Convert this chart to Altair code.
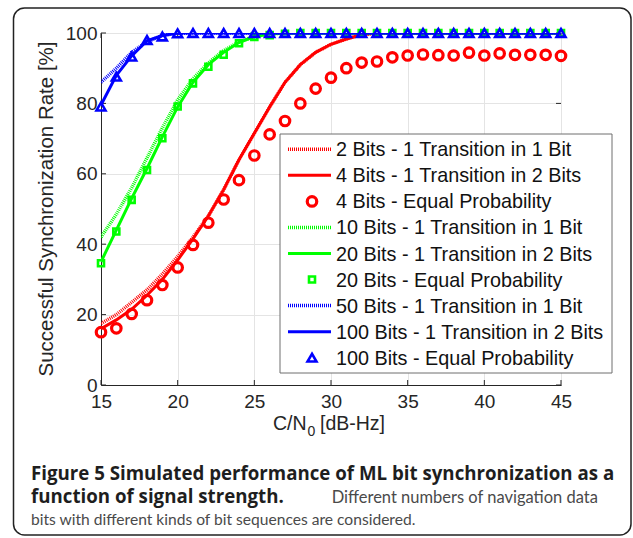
import altair as alt
import pandas as pd

# ---- data -------------------------------------------------------------
cn0 = list(range(15, 46))  # C/N0 in dB-Hz

red_2bits_1in1 = [17.5, 20, 23.5, 27, 31.5, 36.5, 42, 48, 55.5, 64, 71.5, 79, 86, 91,
                  94.5, 96.8, 98.3, 99.5] + [100] * 13
red_4bits_1in2 = [16, 18.5, 21.5, 25.5, 30, 35.5, 41.5, 48, 55.5, 64, 71.5, 79, 86, 91,
                  94.5, 96.8, 98.3, 99.5] + [100] * 13
red_4bits_equal = [15, 16.1, 20.2, 24.1, 28.4, 33.4, 39.8, 46.1, 52.7, 58.2, 65.2, 71.2,
                   75.0, 80.0, 84.2, 87.3, 90.0, 91.6, 91.9, 93.1, 93.6, 93.9, 93.7, 93.6,
                   94.4, 93.6, 94.2, 93.8, 93.8, 93.8, 93.5]
green_10bits_1in1 = [42, 48.5, 56, 64.5, 73, 81, 87, 91.5, 95, 97.5, 99, 99.7] + [100] * 19
green_20bits_1in2 = [35, 44, 53, 61.5, 70.5, 79, 86, 91, 94.5, 97.3, 99, 99.7] + [100] * 19
green_20bits_equal = [34.6, 43.6, 52.6, 61.1, 70.1, 79.1, 85.7, 90.4, 93.8, 97.1, 98.9,
                      99.4, 99.8] + [100] * 18
blue_50bits_1in1 = [86, 90, 94.5, 97.5, 99.3, 99.9] + [100] * 25
blue_100bits_1in2 = [79.5, 88, 93.5, 97.8, 99.3, 100] + [100] * 25
blue_100bits_equal = [79.1, 87.6, 93.3, 98, 99, 99.9] + [100] * 25

legend_labels = [
    "2 Bits - 1 Transition in 1 Bit",
    "4 Bits - 1 Transition in 2 Bits",
    "4 Bits - Equal Probability",
    "10 Bits - 1 Transition in 1 Bit",
    "20 Bits - 1 Transition in 2 Bits",
    "20 Bits - Equal Probability",
    "50 Bits - 1 Transition in 1 Bit",
    "100 Bits - 1 Transition in 2 Bits",
    "100 Bits - Equal Probability",
]
series_values = [
    red_2bits_1in1, red_4bits_1in2, red_4bits_equal,
    green_10bits_1in1, green_20bits_1in2, green_20bits_equal,
    blue_50bits_1in1, blue_100bits_1in2, blue_100bits_equal,
]

x_ticks = [15, 20, 25, 30, 35, 40, 45]
y_ticks = [0, 20, 40, 60, 80, 100]

caption_bold_1 = "Figure 5 Simulated performance of ML bit synchronization as a"
caption_bold_2 = "function of signal strength."
caption_reg_2 = "Different numbers of navigation data"
caption_reg_3 = "bits with different kinds of bit sequences are considered."

# ---- styling ------------------------------------------------------------
W, H = 460, 352
FONT = "Liberation Sans"
INK = "#262626"
RED, GREEN, BLUE = "#ff0000", "#00ff00", "#0000ff"
colors = [RED, RED, RED, GREEN, GREEN, GREEN, BLUE, BLUE, BLUE]
kinds = ["dotted", "solid", "marker"] * 3
shapes = {2: "circle", 5: "square", 8: "triangle-up"}
sizes = {2: 90, 5: 36, 8: 80}
stroke_w = {2: 3.2, 5: 2.6, 8: 2.6}

x_scale = alt.Scale(domain=[15, 45], nice=False, zero=False)
y_scale = alt.Scale(domain=[0, 100], nice=False)

axis_common = dict(
    grid=True, gridColor="#e4e4e4", gridWidth=1, ticks=False, domain=True,
    domainColor=INK, domainWidth=1, labelFont=FONT, labelFontSize=19,
    labelColor=INK, labelOverlap=False, labelFlush=False, title=None,
)
x_axis = alt.Axis(values=x_ticks, labelPadding=7, **axis_common)
y_axis = alt.Axis(values=y_ticks, labelPadding=4, **axis_common)


def xq(field="cn0"):
    return alt.X(f"{field}:Q", scale=x_scale, axis=x_axis)


def yq(field="rate"):
    return alt.Y(f"{field}:Q", scale=y_scale, axis=y_axis)


def one_row():
    return pd.DataFrame({"k": [0]})


layers = []

# inward tick marks on all four sides of the box
xt = pd.DataFrame({"cn0": x_ticks})
yt = pd.DataFrame({"rate": y_ticks})
tick_style = dict(color=INK, strokeWidth=1)
layers += [
    alt.Chart(xt).mark_rule(**tick_style).encode(x=xq(), y=alt.value(H), y2=alt.value(H - 5)),
    alt.Chart(xt).mark_rule(**tick_style).encode(x=xq(), y=alt.value(0), y2=alt.value(5)),
    alt.Chart(yt).mark_rule(**tick_style).encode(y=yq(), x=alt.value(0), x2=alt.value(5)),
    alt.Chart(yt).mark_rule(**tick_style).encode(y=yq(), x=alt.value(W), x2=alt.value(W - 5)),
]

# data series
for i, (label, vals) in enumerate(zip(legend_labels, series_values)):
    df = pd.DataFrame({"cn0": cn0, "rate": vals})
    if kinds[i] == "dotted":
        mark = alt.Chart(df).mark_line(color=colors[i], strokeWidth=3.5, strokeDash=[1, 1], clip=True)
    elif kinds[i] == "solid":
        mark = alt.Chart(df).mark_line(color=colors[i], strokeWidth=3, clip=True)
    else:
        mark = alt.Chart(df).mark_point(
            shape=shapes[i], filled=False, color=colors[i], strokeWidth=stroke_w[i],
            size=sizes[i], opacity=1
        )
    layers.append(mark.encode(x=xq(), y=yq()))

# legend box
LX0, LX1, LY0, LY1 = 179, 511, 101, 340
layers.append(
    alt.Chart(one_row()).mark_rect(fill="white", stroke="#6f6f6f", strokeWidth=1).encode(
        x=alt.value(LX0), x2=alt.value(LX1), y=alt.value(LY0), y2=alt.value(LY1)
    )
)
row0, row_step = 116.3, 26.05
for i, label in enumerate(legend_labels):
    ry = row0 + row_step * i
    if kinds[i] == "marker":
        layers.append(
            alt.Chart(one_row()).mark_point(
                shape=shapes[i], filled=False, color=colors[i], strokeWidth=stroke_w[i],
                size=sizes[i], opacity=1
            ).encode(x=alt.value(211), y=alt.value(ry))
        )
    else:
        dash = dict(strokeDash=[1, 1], strokeWidth=3.5) if kinds[i] == "dotted" else dict(strokeWidth=3)
        layers.append(
            alt.Chart(one_row()).mark_rule(color=colors[i], **dash).encode(
                x=alt.value(187), x2=alt.value(230), y=alt.value(ry)
            )
        )
    layers.append(
        alt.Chart(one_row()).mark_text(
            text=label, font=FONT, fontSize=19.8, color="#111111", align="left", baseline="middle"
        ).encode(x=alt.value(235), y=alt.value(ry + 1))
    )

# axis titles
layers.append(
    alt.Chart(one_row()).mark_text(
        text="Successful Synchronization Rate [%]", font=FONT, fontSize=20.5, color=INK,
        angle=270, align="center", baseline="middle"
    ).encode(x=alt.value(-54), y=alt.value(H / 2))
)
layers += [
    alt.Chart(one_row()).mark_text(text="C/N", font=FONT, fontSize=19.5, color=INK, align="left",
                                   baseline="alphabetic").encode(x=alt.value(172), y=alt.value(H + 45)),
    alt.Chart(one_row()).mark_text(text="0", font=FONT, fontSize=14, color=INK, align="left",
                                   baseline="alphabetic").encode(x=alt.value(206.5), y=alt.value(H + 51)),
    alt.Chart(one_row()).mark_text(text="[dB-Hz]", font=FONT, fontSize=19.5, color=INK, align="left",
                                   baseline="alphabetic").encode(x=alt.value(219), y=alt.value(H + 45)),
]

# caption below the figure (justified lines: second line's tail is flush right)
layers += [
    alt.Chart(one_row()).mark_text(text=caption_bold_1, font="Open Sans", fontSize=18.7, fontWeight="bold",
                                   color="#1e1e1e", align="left", baseline="alphabetic")
    .encode(x=alt.value(-70), y=alt.value(447)),
    alt.Chart(one_row()).mark_text(text=caption_bold_2, font="Open Sans", fontSize=18.7, fontWeight="bold",
                                   color="#1e1e1e", align="left", baseline="alphabetic")
    .encode(x=alt.value(-70), y=alt.value(469.5)),
    alt.Chart(one_row()).mark_text(text=caption_reg_2, font="Lato", fontSize=16.5, color="#4a4a4a",
                                   align="right", baseline="alphabetic")
    .encode(x=alt.value(497), y=alt.value(469.5)),
    alt.Chart(one_row()).mark_text(text=caption_reg_3, font="Lato", fontSize=15.6, color="#4a4a4a",
                                   align="left", baseline="alphabetic")
    .encode(x=alt.value(-70), y=alt.value(492)),
]

# rounded outer frame
layers.append(
    alt.Chart(one_row()).mark_rect(fillOpacity=0, stroke="#222222", strokeWidth=1.5, cornerRadius=11).encode(
        x=alt.value(-87.5), x2=alt.value(530), y=alt.value(-25), y2=alt.value(502)
    )
)

chart = (
    alt.layer(*layers)
    .properties(
        width=W, height=H,
        autosize=alt.AutoSizeParams(type="none"),
        padding={"left": 101, "top": 33, "right": 72, "bottom": 153},
        background="white",
    )
    .configure_view(stroke=INK, strokeWidth=1)
)

chart.save("out.html", embed_options={"renderer": "svg", "actions": False})
